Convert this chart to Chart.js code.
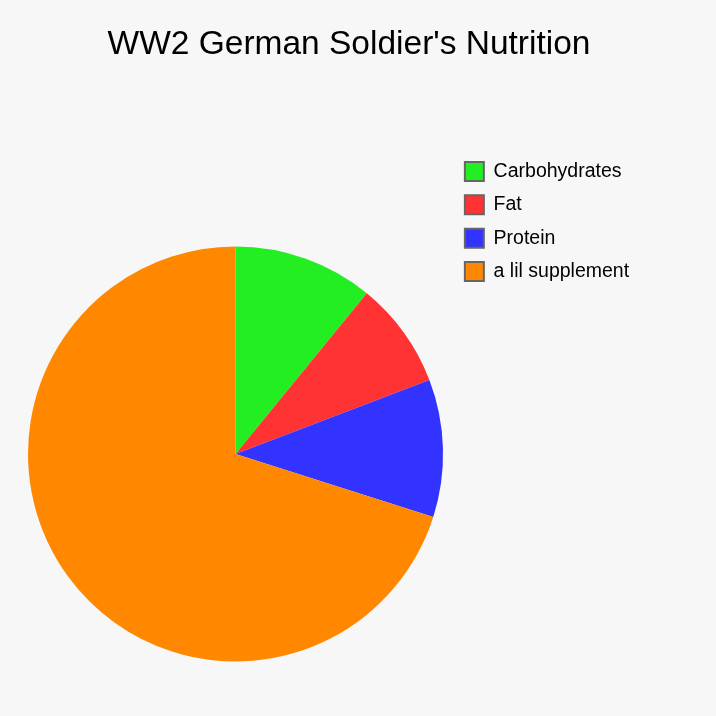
<!DOCTYPE html>
<html>
<head>
<meta charset="utf-8">
<script src="https://cdn.jsdelivr.net/npm/chart.js@4"></script>
<style>
  html, body { margin: 0; padding: 0; background: #f7f7f7; }
  #wrap { width: 716px; height: 716px; }
</style>
</head>
<body>
<div id="wrap"><canvas id="chart" width="716" height="716"></canvas></div>
<script>
// slice names and their shares (clockwise from 12 o'clock)
const categories = ["Carbohydrates", "Fat", "Protein", "a lil supplement"];
const shares = [10.9, 8.3, 10.7, 70.1];
const sliceColors = ["#22ee22", "#ff3333", "#3333ff", "#ff8800"];
const chartTitle = "WW2 German Soldier's Nutrition";

const ctx = document.getElementById('chart');

// the title box only spans the padded width, so stretch it over the canvas
// (the original title sits a bit left of the canvas middle)
const titleSpan = {
  id: 'titleSpan',
  afterLayout(chart) {
    if (chart.titleBlock) {
      chart.titleBlock.left = 0;
      chart.titleBlock.right = chart.width - 18;
    }
  }
};

new Chart(ctx, {
  type: 'pie',
  data: {
    labels: categories,
    datasets: [{
      data: shares,
      backgroundColor: sliceColors,
      borderWidth: 0,
      hoverOffset: 0
    }]
  },
  options: {
    responsive: false,
    animation: false,
    layout: {
      padding: { left: 20, right: 76.9, top: 0, bottom: 54.5 }
    },
    plugins: {
      tooltip: { enabled: false },
      title: {
        display: true,
        text: chartTitle,
        color: '#000',
        font: { family: 'Liberation Sans, Arial, sans-serif', size: 33.5, weight: 'normal' },
        padding: { top: 25, bottom: 181.3 }
      },
      legend: {
        position: 'right',
        align: 'start',
        // empty legend title only pushes the items down to where they sit
        title: { display: true, text: '', font: { size: 10, lineHeight: 1 }, padding: { top: 138, bottom: 0 } },
        labels: {
          color: '#000',
          font: { family: 'Liberation Sans, Arial, sans-serif', size: 19.5 },
          boxWidth: 19,
          boxHeight: 19,
          padding: 13.8,
          generateLabels: function (chart) {
            const items = Chart.overrides.pie.plugins.legend.labels.generateLabels(chart);
            items.forEach(it => { it.strokeStyle = '#666'; it.lineWidth = 2; });
            return items;
          }
        }
      }
    }
  },
  plugins: [titleSpan]
});
</script>
</body>
</html>
